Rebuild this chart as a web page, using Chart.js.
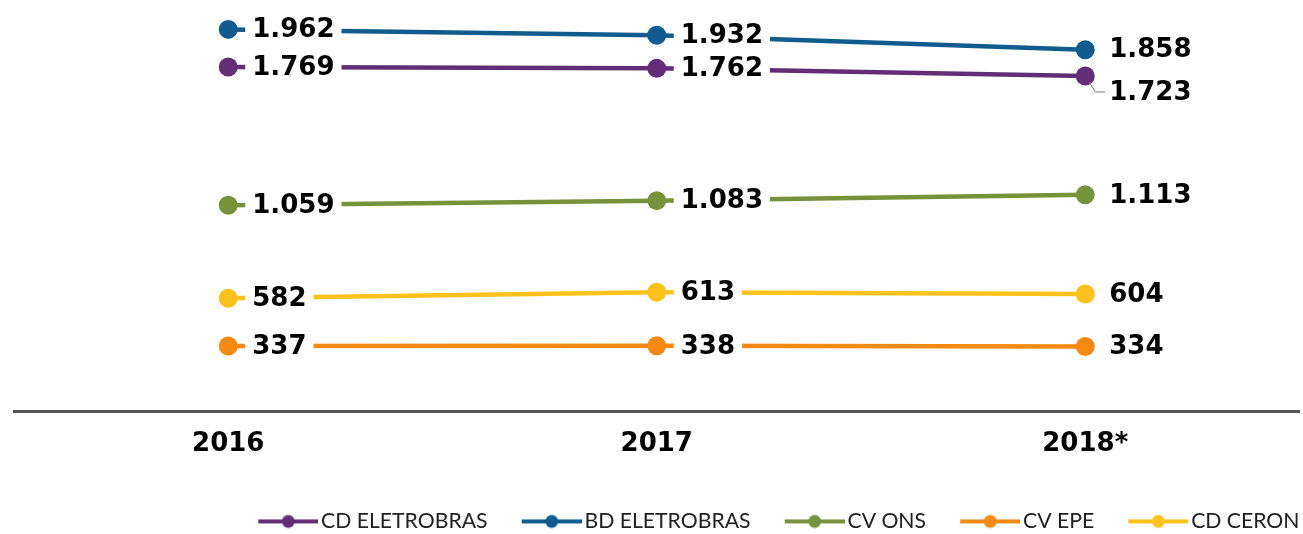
<!DOCTYPE html>
<html>
<head>
<meta charset="utf-8">
<script src="https://cdn.jsdelivr.net/npm/chart.js@4.4.1/dist/chart.umd.min.js"></script>
<style>
  html, body { margin: 0; padding: 0; background: #fff; }
  #wrap { width: 1303px; height: 534px; }
</style>
</head>
<body>
<div id="wrap"><canvas id="myChart"></canvas></div>
<script>
// dados
const categories = ['2016', '2017', '2018*'];
const cdEletrobras = [1769, 1762, 1723];
const bdEletrobras = [1962, 1932, 1858];
const cvOns = [1059, 1083, 1113];
const cvEpe = [337, 338, 334];
const cdCeron = [582, 613, 604];

const seriesNames = ['CD ELETROBRAS', 'BD ELETROBRAS', 'CV ONS', 'CV EPE', 'CD CERON'];
const seriesColors = ['#632d78', '#115b8e', '#76933c', '#f48a12', '#fdc21c'];

function fmt(v) {
    return String(v).replace(/\B(?=(\d{3})+(?!\d))/g, '.');
}

// marcador da legenda: linha + círculo
function legendMarker(color) {
    const c = document.createElement('canvas');
    c.width = 102;
    c.height = 16;
    const g = c.getContext('2d');
    g.strokeStyle = color;
    g.lineWidth = 4;
    g.beginPath();
    g.moveTo(42, 8);
    g.lineTo(102, 8);
    g.stroke();
    g.fillStyle = color;
    g.beginPath();
    g.arc(72, 8, 6.5, 0, Math.PI * 2);
    g.fill();
    return c;
}
const markers = seriesColors.map(legendMarker);

const valueLabels = {
    id: 'valueLabels',
    afterDatasetsDraw(chart, args, opts) {
        const ctx = chart.ctx;
        ctx.save();
        ctx.font = 'bold 26px "DejaVu Sans"';
        ctx.textBaseline = 'middle';
        ctx.textAlign = 'left';
        chart.data.datasets.forEach((ds, di) => {
            const meta = chart.getDatasetMeta(di);
            meta.data.forEach((pt, i) => {
                const txt = fmt(ds.data[i]);
                const w = ctx.measureText(txt).width;
                let x = pt.x + 24;
                let y = pt.y;
                const shift = (opts.shifts || []).find(s => s.dataset === di && s.index === i);
                if (shift) {
                    y += shift.dy;
                    x += shift.dx;
                    ctx.strokeStyle = '#8a7a90';
                    ctx.lineWidth = 1;
                    ctx.beginPath();
                    ctx.moveTo(pt.x + 4, pt.y + 6);
                    ctx.lineTo(pt.x + 10, y);
                    ctx.lineTo(x - 4, y);
                    ctx.stroke();
                } else {
                    ctx.fillStyle = '#fff';
                    ctx.fillRect(x - 7, y - 15, w + 14, 30);
                }
                ctx.fillStyle = '#000';
                ctx.fillText(txt, x, y + 1);
            });
        });
        ctx.restore();
    }
};

const allSeries = [cdEletrobras, bdEletrobras, cvOns, cvEpe, cdCeron];

const ctx = document.getElementById('myChart');
new Chart(ctx, {
    type: 'line',
    data: {
        labels: categories,
        datasets: allSeries.map((vals, i) => ({
            label: seriesNames[i],
            data: vals,
            borderColor: seriesColors[i],
            backgroundColor: seriesColors[i],
            borderWidth: 4.5,
            pointRadius: 9.5,
            pointHoverRadius: 9.5,
            pointBorderWidth: 0,
            tension: 0,
            clip: false
        }))
    },
    plugins: [valueLabels],
    options: {
        responsive: true,
        maintainAspectRatio: false,
        animation: false,
        layout: {
            autoPadding: false,
            padding: { top: 22, left: 14, right: 3.5, bottom: -8 }
        },
        scales: {
            x: {
                offset: true,
                grid: { display: false, drawTicks: false },
                border: { display: true, color: '#555555', width: 3 },
                ticks: {
                    color: '#000',
                    padding: 17,
                    font: { family: '"DejaVu Sans"', size: 26, weight: 'bold' }
                },
                afterFit: function (scale) {
                    scale.height += 34;
                    scale.paddingLeft = 0;
                    scale.paddingRight = 0;
                }
            },
            y: {
                display: false,
                min: 0,
                max: 2000
            }
        },
        plugins: {
            tooltip: { enabled: false },
            valueLabels: {
                shifts: [{ dataset: 0, index: 2, dx: 0, dy: 16 }]
            },
            legend: {
                display: true,
                position: 'bottom',
                align: 'end',
                labels: {
                    usePointStyle: true,
                    pointStyleWidth: 86.4,
                    padding: 0,
                    color: '#222',
                    font: { family: 'Lato', size: 21.2 },
                    generateLabels: function (chart) {
                        const items = Chart.defaults.plugins.legend.labels.generateLabels(chart);
                        items.forEach((it, i) => { it.pointStyle = markers[i]; });
                        return items;
                    }
                }
            }
        }
    }
});
</script>
</body>
</html>
